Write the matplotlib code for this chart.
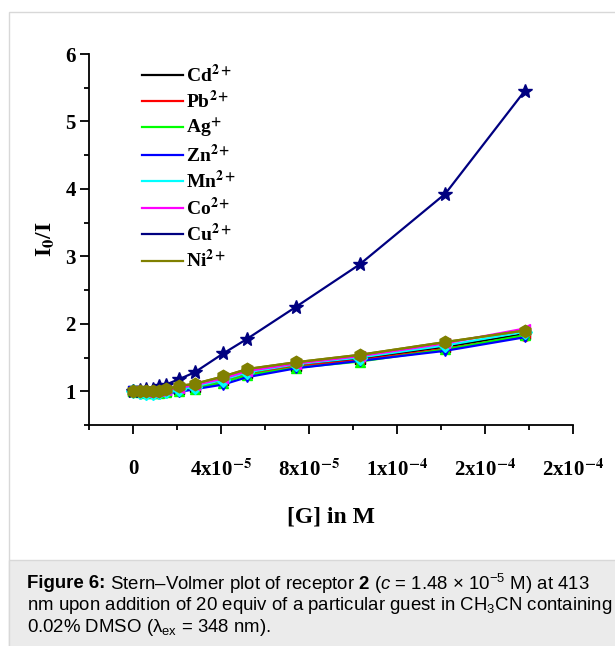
import numpy as np
import matplotlib.pyplot as plt
from matplotlib.lines import Line2D
from matplotlib.patches import Rectangle
from matplotlib.ticker import MultipleLocator, FixedLocator

plt.rcParams['mathtext.fontset'] = 'stix'
plt.rcParams['mathtext.rm'] = 'Liberation Sans'
plt.rcParams['mathtext.it'] = 'Liberation Sans:italic'
plt.rcParams['mathtext.bf'] = 'Liberation Sans:bold'

# guest concentration [G] in M
conc = np.array([0, 0.3, 0.6, 0.9, 1.2, 1.5, 2.1, 2.8, 4.1, 5.2, 7.4, 10.3, 14.2, 17.8]) * 1e-5

# I0/I for each guest
cd = [1.0, 1.0, 0.99, 0.99, 1.0, 1.01, 1.03, 1.06, 1.16, 1.27, 1.38, 1.48, 1.66, 1.85]
pb = [1.0, 0.99, 0.99, 0.98, 0.99, 1.0, 1.02, 1.05, 1.14, 1.25, 1.37, 1.46, 1.63, 1.82]
ag = [1.0, 0.99, 0.98, 0.98, 0.98, 0.99, 1.01, 1.04, 1.13, 1.24, 1.35, 1.44, 1.62, 1.83]
zn = [1.0, 0.96, 0.96, 0.96, 0.96, 0.97, 0.99, 1.03, 1.10, 1.21, 1.34, 1.45, 1.60, 1.80]
mn = [1.0, 0.99, 0.98, 0.98, 0.99, 1.0, 1.03, 1.07, 1.17, 1.28, 1.40, 1.50, 1.68, 1.88]
co = [1.0, 1.0, 0.99, 0.99, 1.0, 1.02, 1.05, 1.09, 1.19, 1.30, 1.41, 1.52, 1.71, 1.93]
cu = [1.0, 1.02, 1.03, 1.04, 1.08, 1.10, 1.18, 1.28, 1.56, 1.78, 2.25, 2.88, 3.93, 5.45]
ni = [1.0, 1.0, 1.0, 1.0, 1.01, 1.03, 1.08, 1.11, 1.22, 1.33, 1.43, 1.54, 1.73, 1.90]

labels = [r'Cd$^{\mathbf{2+}}$', r'Pb$^{\mathbf{2+}}$', r'Ag$^{\mathbf{+}}$', r'Zn$^{\mathbf{2+}}$',
          r'Mn$^{\mathbf{2+}}$', r'Co$^{\mathbf{2+}}$', r'Cu$^{\mathbf{2+}}$', r'Ni$^{\mathbf{2+}}$']
series = [cd, pb, ag, zn, mn, co, cu, ni]
colors = ['black', '#ff0000', '#00ff00', '#0000ff', '#00ffff', '#ff00ff', '#000080', '#808000']
markers = ['s', 'o', '^', 'v', 'D', '<', '*', 'h']

xticks = [0, 4e-5, 8e-5, 1.2e-4, 1.6e-4, 2e-4]
xticklabels = ['0', r'4x10$^{\mathbf{-5}}$', r'8x10$^{\mathbf{-5}}$', r'1x10$^{\mathbf{-4}}$',
               r'2x10$^{\mathbf{-4}}$', r'2x10$^{\mathbf{-4}}$']

fig = plt.figure(figsize=(6.15, 6.46), dpi=100)

# panel frame and caption box
fig.patches.append(Rectangle((9 / 615, -0.01), 1.0, 1 - 12 / 646 + 0.01, transform=fig.transFigure,
                             facecolor='white', edgecolor='#d8d8d8', lw=1.0, zorder=-2))
fig.patches.append(Rectangle((9 / 615, -0.01), 1.0, 86 / 646 + 0.01, transform=fig.transFigure,
                             facecolor='#ebebeb', edgecolor='#d8d8d8', lw=1.0, zorder=-1))

ax = fig.add_axes([89 / 615, 1 - 425 / 646, 484 / 615, 371 / 646])

for ys, c, m in zip(series, colors, markers):
    if c == '#000080':
        continue
    ax.plot(conc, ys, color=c, marker=m, ms=7, lw=1.6, mec=c, mfc=c)
ax.plot(conc, cu, color='#000080', marker='*', ms=10, lw=1.6)
ax.plot(conc, ni, color='#808000', marker='h', ms=9, lw=1.6)

ax.set_xlim(-2e-5, 2e-4)
ax.set_ylim(0.5, 6)
ax.spines['top'].set_visible(False)
ax.spines['right'].set_visible(False)
for s in ['left', 'bottom']:
    ax.spines[s].set_linewidth(1.3)

ax.xaxis.set_major_locator(FixedLocator(xticks))
ax.xaxis.set_minor_locator(FixedLocator([-2e-5, 2e-5, 6e-5, 1e-4, 1.4e-4, 1.8e-4]))
ax.yaxis.set_major_locator(MultipleLocator(1))
ax.yaxis.set_minor_locator(MultipleLocator(0.5))
ax.set_yticks([1, 2, 3, 4, 5, 6])

ax.set_xticklabels(xticklabels, family='Liberation Serif', weight='bold', fontsize=15)
ax.set_yticklabels(['1', '2', '3', '4', '5', '6'], family='Liberation Serif', weight='bold', fontsize=15)
for t in ax.get_xticklabels():
    t.set_math_fontfamily('stix')
ax.tick_params(axis='both', which='major', length=6.5, width=1.3)
ax.tick_params(axis='both', which='minor', length=3.6, width=1.3)
ax.tick_params(axis='x', which='major', pad=18)
ax.tick_params(axis='y', which='major', pad=3)

ax.set_xlabel('[G] in M', family='Liberation Serif', weight='bold', fontsize=17, labelpad=19)
ax.set_ylabel(r'I$_{\mathbf{0}}$/I', family='Liberation Serif', weight='bold', fontsize=17, labelpad=6)
ax.yaxis.label.set_math_fontfamily('stix')

handles = [Line2D([], [], color=c, lw=1.6) for c in colors]
leg = ax.legend(handles, labels, loc='upper left', bbox_to_anchor=(0.09, 1.0), frameon=False,
                handlelength=2.1, handletextpad=0.15, labelspacing=0.22, borderpad=0,
                prop={'family': 'Liberation Serif', 'weight': 'bold', 'size': 14})
for t in leg.get_texts():
    t.set_math_fontfamily('stix')

# caption
cap_size = 13.4
x0 = 27 / 615
t1 = fig.text(x0, 1 - 584 / 646, 'Figure 6:', family='Liberation Sans', weight='bold',
              fontsize=cap_size, va='center', ha='left')
fig.canvas.draw()
bb = t1.get_window_extent()
t = fig.text(bb.x1 / fig.bbox.width, 1 - 584 / 646,
             r' Stern–Volmer plot of receptor $\mathbf{2}$ ($\mathit{c}$ = 1.48 × 10$^{−5}$ M) at 413',
             family='Liberation Sans', fontsize=cap_size, va='center', ha='left')
t.set_math_fontfamily('custom')
rest = [r'nm upon addition of 20 equiv of a particular guest in CH$_3$CN containing',
        r'0.02% DMSO (λ$_{\mathrm{ex}}$ = 348 nm).']
for i, line in enumerate(rest):
    t = fig.text(x0, 1 - (606 + 21.5 * i) / 646, line, family='Liberation Sans',
                 fontsize=cap_size, va='center', ha='left')
    t.set_math_fontfamily('custom')

fig.savefig('out.png', dpi=100)
